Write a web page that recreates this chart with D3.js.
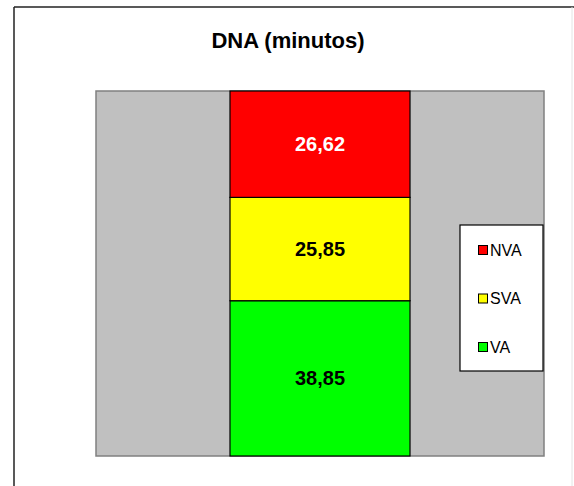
<!DOCTYPE html>
<html>
<head>
<meta charset="utf-8">
<script src="https://cdn.jsdelivr.net/npm/d3@7"></script>
<style>
  html, body { margin: 0; padding: 0; background: #fff; }
  svg { display: block; font-family: Arial, "Liberation Sans", sans-serif; }
</style>
</head>
<body>
<svg id="chart" width="574" height="486"></svg>
<script>
// ---- data ----
const categories = ["DNA"];
const seriesNames = ["VA", "SVA", "NVA"];          // bottom to top
const seriesValues = [38.85, 25.85, 26.62];
const seriesColors = ["#00ff00", "#ffff00", "#ff0000"];
const labelColors = ["#000000", "#000000", "#ffffff"];
const legendOrder = ["NVA", "SVA", "VA"];
const titleText = "DNA (minutos)";

// ---- layout ----
const svg = d3.select("#chart");
const plot = { left: 96, top: 91, right: 544, bottom: 456 };

// outer frame
svg.append("line").attr("x1", 14).attr("y1", 7).attr("x2", 574).attr("y2", 7)
  .attr("stroke", "#222").attr("stroke-width", 1.5);
svg.append("line").attr("x1", 14).attr("y1", 7).attr("x2", 14).attr("y2", 486)
  .attr("stroke", "#222").attr("stroke-width", 1.5);
svg.append("line").attr("x1", 572).attr("y1", 7).attr("x2", 572).attr("y2", 486)
  .attr("stroke", "#e4e4e4").attr("stroke-width", 1);

// title
svg.append("text").attr("x", 288).attr("y", 48).attr("text-anchor", "middle")
  .attr("font-size", 22).attr("font-weight", "bold").attr("fill", "#000")
  .text(titleText);

// table for stack
const row = { cat: categories[0] };
seriesNames.forEach((k, i) => row[k] = seriesValues[i]);
const stacked = d3.stack().keys(seriesNames)([row]);
const total = d3.sum(seriesValues);

const x = d3.scaleBand().domain(categories)
  .range([plot.left, plot.right]).paddingInner(0).paddingOuter(0.7444);
const y = d3.scaleLinear().domain([0, total]).range([plot.bottom, plot.top]);

// plot area
svg.append("rect").attr("x", plot.left).attr("y", plot.top)
  .attr("width", plot.right - plot.left).attr("height", plot.bottom - plot.top)
  .attr("fill", "#c0c0c0").attr("stroke", "#808080").attr("stroke-width", 1.5);

// bars
const g = svg.append("g");
stacked.forEach((s, i) => {
  s.forEach(d => {
    g.append("rect")
      .attr("x", x(d.data.cat)).attr("width", x.bandwidth())
      .attr("y", y(d[1])).attr("height", y(d[0]) - y(d[1]))
      .attr("fill", seriesColors[i]).attr("stroke", "#000").attr("stroke-width", 1.2);
    g.append("text")
      .attr("x", x(d.data.cat) + x.bandwidth() / 2)
      .attr("y", (y(d[0]) + y(d[1])) / 2)
      .attr("dy", "0.35em").attr("text-anchor", "middle")
      .attr("font-size", 20).attr("font-weight", "bold")
      .attr("fill", labelColors[i])
      .text(d3.format(".2f")(d[1] - d[0]).replace(".", ","));
  });
});

// legend
const leg = svg.append("g");
leg.append("rect").attr("x", 460).attr("y", 225).attr("width", 83).attr("height", 146)
  .attr("fill", "#fff").attr("stroke", "#000").attr("stroke-width", 1.2);
const legY = d3.scalePoint().domain(legendOrder).range([250, 347]);
legendOrder.forEach(name => {
  const i = seriesNames.indexOf(name);
  leg.append("rect").attr("x", 478.5).attr("y", legY(name) - 4.5)
    .attr("width", 9).attr("height", 9)
    .attr("fill", seriesColors[i]).attr("stroke", "#000").attr("stroke-width", 1);
  leg.append("text").attr("x", 490).attr("y", legY(name))
    .attr("dy", "0.35em").attr("font-size", 16).attr("fill", "#000")
    .text(name);
});
</script>
</body>
</html>
